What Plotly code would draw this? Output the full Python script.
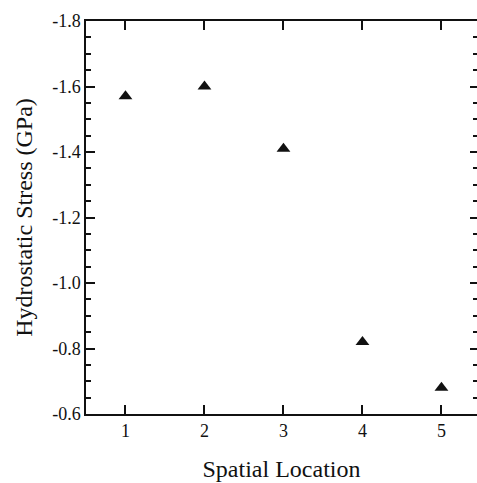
import plotly.graph_objects as go

# Hydrostatic stress at each spatial location
locations = [1, 2, 3, 4, 5]
stress_gpa = [-1.57, -1.60, -1.41, -0.82, -0.68]

x_tick_vals = [1, 2, 3, 4, 5]
x_tick_labels = ["1", "2", "3", "4", "5"]
y_tick_vals = [-1.8, -1.6, -1.4, -1.2, -1.0, -0.8, -0.6]
y_tick_labels = ["-1.8", "-1.6", "-1.4", "-1.2", "-1.0", "-0.8", "-0.6"]

SERIF = "Liberation Serif, Times New Roman, serif"
INK = "#111111"

fig = go.Figure()
fig.add_trace(go.Scatter(
    x=locations, y=stress_gpa, mode="markers",
    marker=dict(symbol="triangle-up", size=12, color=INK, line=dict(width=0)),
    showlegend=False, hoverinfo="skip",
))
# invisible copy so the right-hand tick axis is rendered
fig.add_trace(go.Scatter(
    x=locations, y=stress_gpa, mode="markers", yaxis="y2",
    marker=dict(size=1, opacity=0), showlegend=False, hoverinfo="skip",
))

y_range = [-0.6, -1.8]

fig.update_layout(
    width=477, height=483,
    margin=dict(l=86, r=0, t=21, b=69),
    paper_bgcolor="white", plot_bgcolor="white",
    font=dict(family=SERIF, color=INK),
    xaxis=dict(
        range=[0.5, 5.45],
        tickvals=x_tick_vals, ticktext=x_tick_labels,
        ticks="inside", ticklen=9, tickwidth=1.5, tickcolor=INK,
        showline=True, linewidth=1.5, linecolor=INK, mirror="ticks",
        showgrid=False, zeroline=False,
        tickfont=dict(size=18, family=SERIF, color=INK),
        title=dict(text="Spatial Location", font=dict(size=24, family=SERIF, color=INK), standoff=20),
    ),
    yaxis=dict(
        range=y_range,
        tickvals=y_tick_vals, ticktext=y_tick_labels,
        ticks="inside", ticklen=9, tickwidth=1.5, tickcolor=INK,
        minor=dict(dtick=0.05, tick0=-1.8, ticks="inside", ticklen=5, tickwidth=1.5, tickcolor=INK),
        showline=True, linewidth=1.5, linecolor=INK,
        showgrid=False, zeroline=False,
        tickfont=dict(size=18, family=SERIF, color=INK),
        title=dict(text="Hydrostatic Stress (GPa)", font=dict(size=24, family=SERIF, color=INK), standoff=13),
    ),
    yaxis2=dict(
        range=y_range, overlaying="y", side="right", anchor="free", position=1,
        tickvals=y_tick_vals, showticklabels=False,
        ticks="inside", ticklen=7, tickwidth=1.5, tickcolor=INK,
        minor=dict(dtick=0.05, tick0=-1.8, ticks="inside", ticklen=4, tickwidth=1.5, tickcolor=INK),
        showline=False, showgrid=False, zeroline=False,
    ),
)

fig.write_html("out.html")
